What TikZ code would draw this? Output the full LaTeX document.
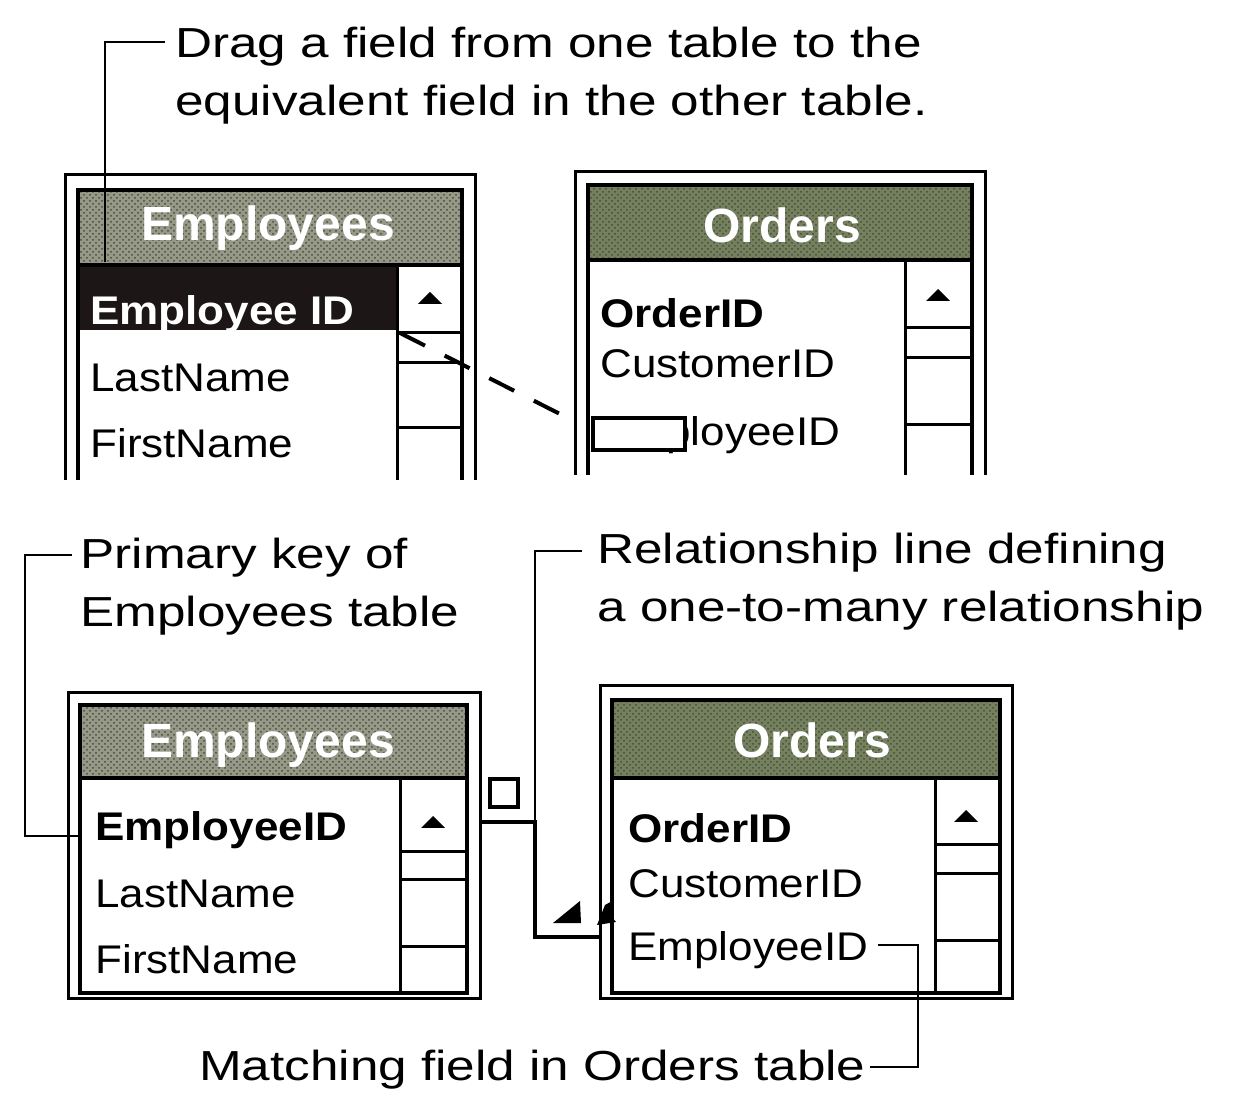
\documentclass[tikz,border=0pt]{standalone}
\usepackage{fontspec}
\setmainfont{Liberation Sans}
\newfontfamily\notefamily[FakeStretch=1.22]{Liberation Sans}
\newfontfamily\tablefamily[FakeStretch=1.1]{Liberation Sans}
\usetikzlibrary{patterns, calc}
\definecolor{empbar}{RGB}{150, 153, 136}
\definecolor{ordbar}{RGB}{116, 128, 94}
\definecolor{bardots}{RGB}{70, 75, 58}
\definecolor{keyrow}{RGB}{28, 22, 22}
\tikzset{
  outerframe/.style={line width=1.5pt},
  innerframe/.style={line width=2pt},
  scrollline/.style={line width=1.5pt},
  titlebar/.style={postaction={pattern=crosshatch dots, pattern color=bardots}},
  titletext/.style={font=\bfseries\fontsize{24}{24}\selectfont, text=white, inner sep=0pt},
  rowtext/.style={anchor=base west, inner sep=0pt, font=\tablefamily\fontsize{20}{24}\selectfont},
  keytext/.style={rowtext, font=\tablefamily\bfseries\fontsize{20}{24}\selectfont},
  notetext/.style={anchor=base west, inner sep=0pt, align=left, font=\notefamily\fontsize{21}{29}\selectfont},
  calloutline/.style={line width=1.4pt},
  relline/.style={line width=2pt},
  dragline/.style={line width=2pt, dash pattern=on 14pt off 11pt},
  upbutton/.style={fill=black}
}

\begin{document}
\begin{tikzpicture}[x=0.5pt, y=-0.5pt]
    \useasboundingbox (0,0) rectangle (1237,1095);

    % top: Employees before the drag
    \fill[empbar, titlebar] (78,190) rectangle (462,265);
    \fill[keyrow] (78,265) rectangle (397,330);
    \draw[outerframe] (65,480) |- (475,175) -- (475,480);
    \draw[innerframe] (78,480) |- (462,190) -- (462,480);
    \draw[innerframe] (78,265) -- (462,265);
    \draw[scrollline] (397,265) -- (397,480);
    \foreach \y in {333, 363, 428}
        \draw[scrollline] (397,\y) -- (462,\y);
    \fill[upbutton] (418,304) -- (442,304) -- (430,292) -- cycle;
    \node (emptitle) [titletext] at (268,228) {Employees};
    \node (empkey) [keytext, text=white] at (90,325) {Employee ID};
    \node (emplast) [rowtext] at (90,392) {LastName};
    \node (empfirst) [rowtext] at (90,458) {FirstName};

    % top: Orders before the drag
    \fill[ordbar, titlebar] (588,185) rectangle (972,260);
    \draw[outerframe] (575,475) |- (985,172) -- (985,475);
    \draw[innerframe] (588,475) |- (972,185) -- (972,475);
    \draw[innerframe] (588,260) -- (972,260);
    \draw[scrollline] (905,260) -- (905,475);
    \foreach \y in {328, 358, 425}
        \draw[scrollline] (905,\y) -- (972,\y);
    \fill[upbutton] (926,301) -- (950,301) -- (938,289) -- cycle;
    \node (ordtitle) [titletext] at (782,225) {Orders};
    \node (ordkey) [keytext] at (600,328) {OrderID};
    \node (ordcust) [rowtext] at (600,378) {CustomerID};
    \node (ordemp) [rowtext] at (600,446) {EmployeeID};
    \node (dragicon) [draw, line width=2pt, fill=white, minimum width=46pt,
        minimum height=16pt, inner sep=0pt] at (639,434) {};

    % the field being dragged
    \coordinate (dragstart) at (400,333);
    \coordinate (dragend) at (562,415);
    \draw[dragline] (dragstart) -- (dragend);

    % bottom: Employees after the drag
    \fill[empbar, titlebar] (80,705) rectangle (467,778);
    \draw[outerframe] (68,693) rectangle (480,998);
    \draw[innerframe] (80,705) rectangle (467,993);
    \draw[innerframe] (80,778) -- (467,778);
    \draw[scrollline] (400,778) -- (400,993);
    \foreach \y in {852, 879, 946}
        \draw[scrollline] (400,\y) -- (467,\y);
    \fill[upbutton] (421,828) -- (445,828) -- (433,816) -- cycle;
    \node (emptitle2) [titletext] at (268,745) {Employees};
    \node (empkey2) [keytext] at (95,841) {EmployeeID};
    \node (emplast2) [rowtext] at (95,907) {LastName};
    \node (empfirst2) [rowtext] at (95,973) {FirstName};

    % bottom: Orders after the drag
    \fill[ordbar, titlebar] (612,700) rectangle (1000,778);
    \draw[outerframe] (600,686) rectangle (1012,998);
    \draw[innerframe] (612,700) rectangle (1000,993);
    \draw[innerframe] (612,778) -- (1000,778);
    \draw[scrollline] (935,778) -- (935,993);
    \foreach \y in {845, 873, 940}
        \draw[scrollline] (935,\y) -- (1000,\y);
    \fill[upbutton] (954,822) -- (978,822) -- (966,810) -- cycle;
    \node (ordtitle2) [titletext] at (812,740) {Orders};
    \node (ordkey2) [keytext] at (628,842) {OrderID};
    \node (ordcust2) [rowtext] at (628,898) {CustomerID};
    \node (ordemp2) [rowtext] at (628,960) {EmployeeID};

    % relationship line with its one and many ends
    \coordinate (relstart) at (480,822);
    \coordinate (relcorner) at (535,822);
    \coordinate (relend) at (600,937);
    \draw[relline] (relstart) -- (relcorner) |- (relend);
    \node (onemark) [draw, line width=1.8pt, minimum size=14pt, inner sep=0pt] at (504,793) {};
    \fill (553,923) -- (580,901) -- (581,923) -- cycle;
    \fill (597,925) -- (605,905) -- (614,900) -- (610,915) -- (616,922) -- cycle;

    % callouts
    \node (dragnote) [notetext] at (175,116) {Drag a field from one table to the\\equivalent field in the other table.};
    \node (pknote) [notetext] at (80,627) {Primary key of\\Employees table};
    \node (relnote) [notetext] at (597,622) {Relationship line defining\\a one-to-many relationship};
    \node (matchnote) [notetext, anchor=base east] at (866,1080) {Matching field in Orders table};

    \coordinate (dragtip) at (165,42);
    \coordinate (dragroot) at (105,262);
    \draw[calloutline] (dragtip) -| (dragroot);
    \coordinate (pktip) at (72,555);
    \coordinate (pkend) at (82,836);
    \draw[calloutline] (pktip) -- ++(-47,0) |- (pkend);
    \coordinate (reltip) at (582,551);
    \draw[calloutline] (reltip) -| (relcorner);
    \coordinate (matchfield) at (878,945);
    \coordinate (matchtip) at (870,1067);
    \draw[calloutline] (matchfield) -- ++(40,0) |- (matchtip);
\end{tikzpicture}
\end{document}
